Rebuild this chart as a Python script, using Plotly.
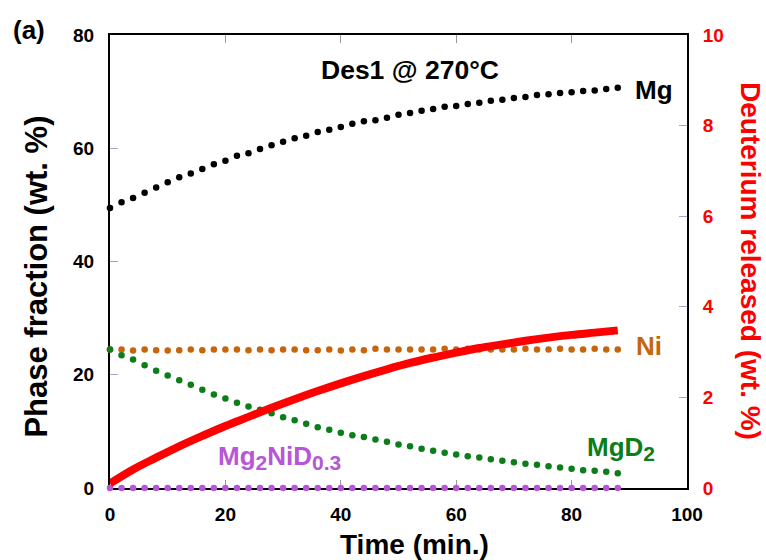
import plotly.graph_objects as go

# ---- data ----
time_min = [0, 2, 4, 6, 8, 10, 12, 14, 16, 18, 20, 22, 24, 26, 28, 30, 32, 34, 36, 38,
            40, 42, 44, 46, 48, 50, 52, 54, 56, 58, 60, 62, 64, 66, 68, 70, 72, 74, 76, 78,
            80, 82, 84, 86, 88]

mg = [49.46, 50.45, 51.23, 52.16, 53.05, 53.98, 54.86, 55.52, 56.35, 57.16,
      57.81, 58.69, 59.10, 59.88, 60.51, 61.16, 61.75, 62.22, 62.88, 63.28,
      63.76, 64.34, 64.78, 64.95, 65.40, 65.93, 66.23, 66.64, 66.94, 67.34,
      67.45, 67.82, 68.05, 68.40, 68.58, 68.88, 69.06, 69.41, 69.52, 69.77,
      69.87, 70.12, 70.22, 70.46, 70.70]

ni = [24.45, 24.45, 24.27, 24.45, 24.33, 24.27, 24.33, 24.45, 24.33, 24.45,
      24.45, 24.45, 24.33, 24.45, 24.33, 24.45, 24.45, 24.33, 24.33, 24.45,
      24.27, 24.45, 24.33, 24.57, 24.45, 24.45, 24.45, 24.45, 24.45, 24.57,
      24.45, 24.57, 24.45, 24.45, 24.45, 24.45, 24.57, 24.45, 24.45, 24.57,
      24.45, 24.45, 24.57, 24.45, 24.45]

mgd2 = [24.45, 23.44, 22.68, 21.68, 20.69, 19.86, 19.03, 18.22, 17.33, 16.50,
        15.80, 15.04, 14.39, 13.80, 13.20, 12.50, 11.97, 11.33, 10.73, 10.27,
        9.74, 9.32, 9.00, 8.56, 8.16, 7.68, 7.38, 6.92, 6.57, 6.21,
        5.91, 5.61, 5.38, 5.08, 4.80, 4.55, 4.27, 4.10, 3.85, 3.62,
        3.39, 3.14, 3.04, 2.86, 2.61]

mg2nid = [0, 0, 0, 0, 0, 0, 0, 0, 0, 0,
          0, 0, 0, 0, 0, 0, 0, 0, 0, 0,
          0, 0, 0, 0, 0, 0, 0, 0, 0, 0,
          0, 0, 0, 0, 0, 0, 0, 0, 0, 0,
          0, 0, 0, 0, 0]

d_time = [0, 4, 8, 12, 16, 20, 24, 28, 32, 36, 40, 44, 48, 52, 56, 60, 64, 68, 72, 76, 80, 84, 88]
d_released = [0.10, 0.41, 0.67, 0.92, 1.15, 1.37, 1.57, 1.77, 1.96, 2.14, 2.31, 2.47,
              2.62, 2.76, 2.88, 2.99, 3.09, 3.17, 3.25, 3.32, 3.38, 3.43, 3.48]

x_ticks = [0, 20, 40, 60, 80, 100]
y_ticks = [0, 20, 40, 60, 80]
y2_ticks = [0, 2, 4, 6, 8, 10]

# ---- style ----
FONT = "Liberation Sans"
C_MG = "#000000"
C_NI = "#c8640a"
C_MGD2 = "#0b7d19"
C_MG2NID = "#b657d8"
C_RED = "#ff0000"
MS = 6.5

fig = go.Figure()

def dots(y, color, name):
    fig.add_trace(go.Scatter(x=time_min, y=y, mode="markers", name=name,
                             marker=dict(size=MS, color=color, line=dict(width=0)),
                             cliponaxis=False, showlegend=False))

dots(mg2nid, C_MG2NID, "Mg2NiD0.3")
dots(ni, C_NI, "Ni")
dots(mgd2, C_MGD2, "MgD2")
dots(mg, C_MG, "Mg")

fig.add_trace(go.Scatter(x=d_time, y=d_released, mode="lines", yaxis="y2",
                         line=dict(color=C_RED, width=8, shape="spline"),
                         cliponaxis=False, showlegend=False, name="D released"))

def label(x, y, text, color, size=26, xanchor="left"):
    fig.add_annotation(x=x, y=y, xref="x", yref="y", text=text, showarrow=False,
                       xanchor=xanchor, yanchor="middle",
                       font=dict(family=FONT, size=size, color=color, weight="bold"))

SUB = "<sub><span style='font-size:21px'>{}</span></sub>"
label(90.7, 70.3, "Mg", C_MG)
label(90.8, 25.0, "Ni", C_NI)
label(82.4, 7.0, "MgD" + SUB.format("2"), C_MGD2)
label(18.4, 5.4, "Mg" + SUB.format("2") + "NiD" + SUB.format("0.3"), C_MG2NID)
label(52.0, 73.9, "Des1 @ 270°C", C_MG, size=26.5, xanchor="center")

def paper_text(x, y, text, color, angle=0, size=28):
    fig.add_annotation(x=x, y=y, xref="paper", yref="paper", text=text, showarrow=False,
                       xanchor="center", yanchor="middle", textangle=angle,
                       font=dict(family=FONT, size=size, color=color, weight="bold"))

paper_text(-0.127, 0.466, "Phase fraction (wt. %)", "#000000", angle=-90, size=31)
paper_text(1.11, 0.50, "Deuterium released (wt. %)", C_RED, angle=90, size=28)
paper_text(0.527, -0.125, "Time (min.)", "#000000")
paper_text(-0.141, 1.01, "(a)", "#000000", size=26)

fig.update_layout(
    width=766, height=560,
    margin=dict(l=110, r=79, t=35, b=72, autoexpand=False),
    paper_bgcolor="white", plot_bgcolor="white",
    font=dict(family=FONT, color="#000000"),
    xaxis=dict(range=[0, 100], tickvals=x_ticks, ticks="inside", ticklen=8, tickwidth=1,
               tickcolor="#9a9a9a", showline=True, linecolor="black", linewidth=2,
               mirror="ticks", showgrid=False, zeroline=False, layer="below traces",
               automargin=False,
               tickfont=dict(family=FONT, size=19, color="black", weight="bold"),
               ticklabelstandoff=8),
    yaxis=dict(range=[0, 80], tickvals=y_ticks, ticks="inside", ticklen=8, tickwidth=1,
               tickcolor="#a4a4c8", showline=True, linecolor="black", linewidth=2,
               showgrid=False, zeroline=False, layer="below traces", automargin=False,
               tickfont=dict(family=FONT, size=19, color="black", weight="bold"),
               ticklabelstandoff=10),
    yaxis2=dict(range=[0, 10], tickvals=y2_ticks, overlaying="y", side="right",
                ticks="inside", ticklen=8, tickwidth=1, tickcolor="#a4a4c8",
                showline=True, linecolor="black", linewidth=2, showgrid=False,
                zeroline=False, layer="below traces", automargin=False,
                tickfont=dict(family=FONT, size=19, color=C_RED, weight="bold"),
                ticklabelstandoff=10),
)

fig.write_html("out.html", config={"displayModeBar": False},
               post_script="document.body.style.margin='0';document.body.style.padding='0';")
